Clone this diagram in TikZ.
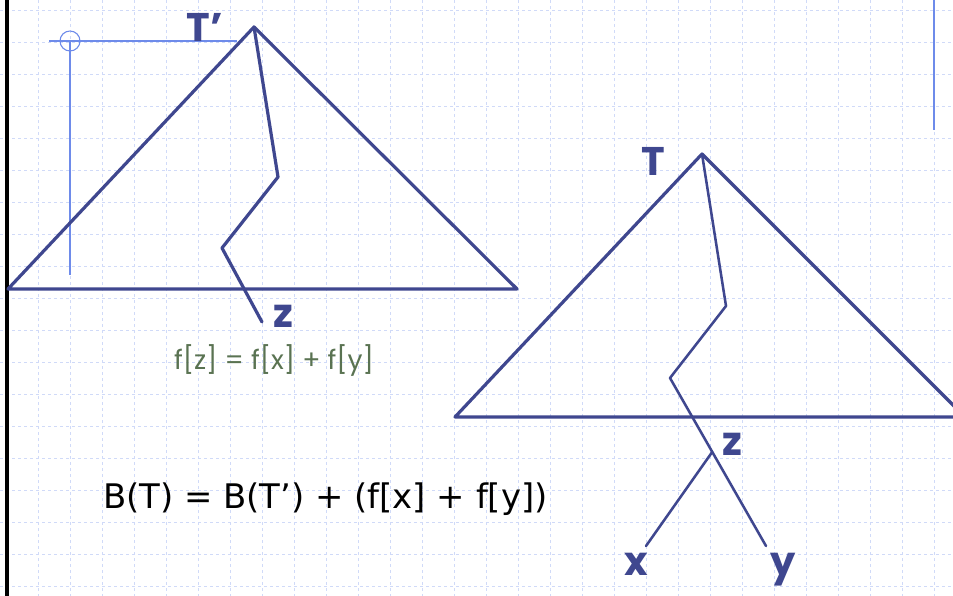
\documentclass[tikz,border=0pt]{standalone}
\usepackage{fontspec}
\setmainfont{DejaVu Sans}
\newfontfamily\handfont{Poppins}
\usetikzlibrary{calc}
\definecolor{SlideNavy}{HTML}{3F478F}
\definecolor{SlideGrid}{HTML}{D0DAF8}
\definecolor{SlideGuide}{HTML}{6E8BEA}
\definecolor{SlideGreen}{HTML}{5A7352}
\tikzset{
  gridline/.style={draw=SlideGrid,line width=0.75pt,dash pattern=on 2.5pt off 2pt},
  guideline/.style={draw=SlideGuide,line width=0.8pt},
  treeline/.style={draw=SlideNavy,line width=2.4pt,line join=round,line cap=round},
  treelabel/.style={text=SlideNavy,font=\handfont\bfseries\fontsize{30}{30}\selectfont,inner sep=0pt,anchor=base},
  notelabel/.style={text=SlideGreen,font=\handfont\fontsize{20}{20}\selectfont,inner sep=0pt,anchor=base},
  eqlabel/.style={text=black,font=\fontsize{25.4}{25.4}\selectfont,inner sep=0pt,anchor=base west}
}
\begin{document}
\begin{tikzpicture}[x=0.75pt,y=-0.75pt]
  \clip (0,0) rectangle (953,596);
  \fill[white] (0,0) rectangle (953,596);
  % grid paper
  \foreach \gx in {6,38,...,950}
    \draw[gridline] (\gx,0) -- (\gx,596);
  \foreach \gy in {10,42,...,594}
    \draw[gridline] (0,\gy) -- (953,\gy);
  \draw[black,line width=2.6pt] (7,0) -- (7,596);

  % guides
  \draw[guideline] (49,41) -- (237,41);
  \draw[guideline,line width=1.5pt] (70,41) -- (70,275);
  \draw[guideline] (70,41) circle (10);
  \draw[guideline,line width=1.6pt] (934,0) -- (934,130);

  % tree T'
  \coordinate (tpApex) at (254,27);
  \coordinate (tpLeft) at (8,289);
  \coordinate (tpRight) at (517,289);
  \draw[treeline] (tpLeft) -- (tpApex) -- (tpRight) -- cycle;
  \draw[treeline] (tpApex) -- (278,177) -- (222,248) -- (262,322);
  \node[treelabel] (tpName) at (205,41) {T’};
  \node[treelabel] (tpLeaf) at (283,327) {z};
  \node[notelabel] (tpNote) at (274,369) {f[z] = f[x] + f[y]};

  % tree T
  \coordinate (tApex) at (702,154);
  \coordinate (tLeft) at (455,417);
  \coordinate (tRight) at (965,417);
  \coordinate (tBendA) at (726,306);
  \coordinate (tBendB) at (670,378);
  \coordinate (tLeafY) at (766,546);
  \coordinate (tLeafX) at (646,546);
  \coordinate (tJoin) at ($(tBendB)!0.44!(tLeafY)$);
  \draw[treeline] (tLeft) -- (tApex) -- (tRight) -- cycle;
  \draw[treeline,line width=1.9pt] (tApex) -- (tBendA) -- (tBendB) -- (tLeafY);
  \draw[treeline,line width=1.9pt] (tJoin) -- (tLeafX);
  \node[treelabel] (tName) at (653,175) {T};
  \node[treelabel] (tZ) at (732,455) {z};
  \node[treelabel] (tX) at (636,575) {x};
  \node[treelabel] (tY) at (783,575) {y};

  \node[eqlabel] (cost) at (103,508) {B(T) = B(T’) + (f[x] + f[y])};
\end{tikzpicture}
\end{document}
